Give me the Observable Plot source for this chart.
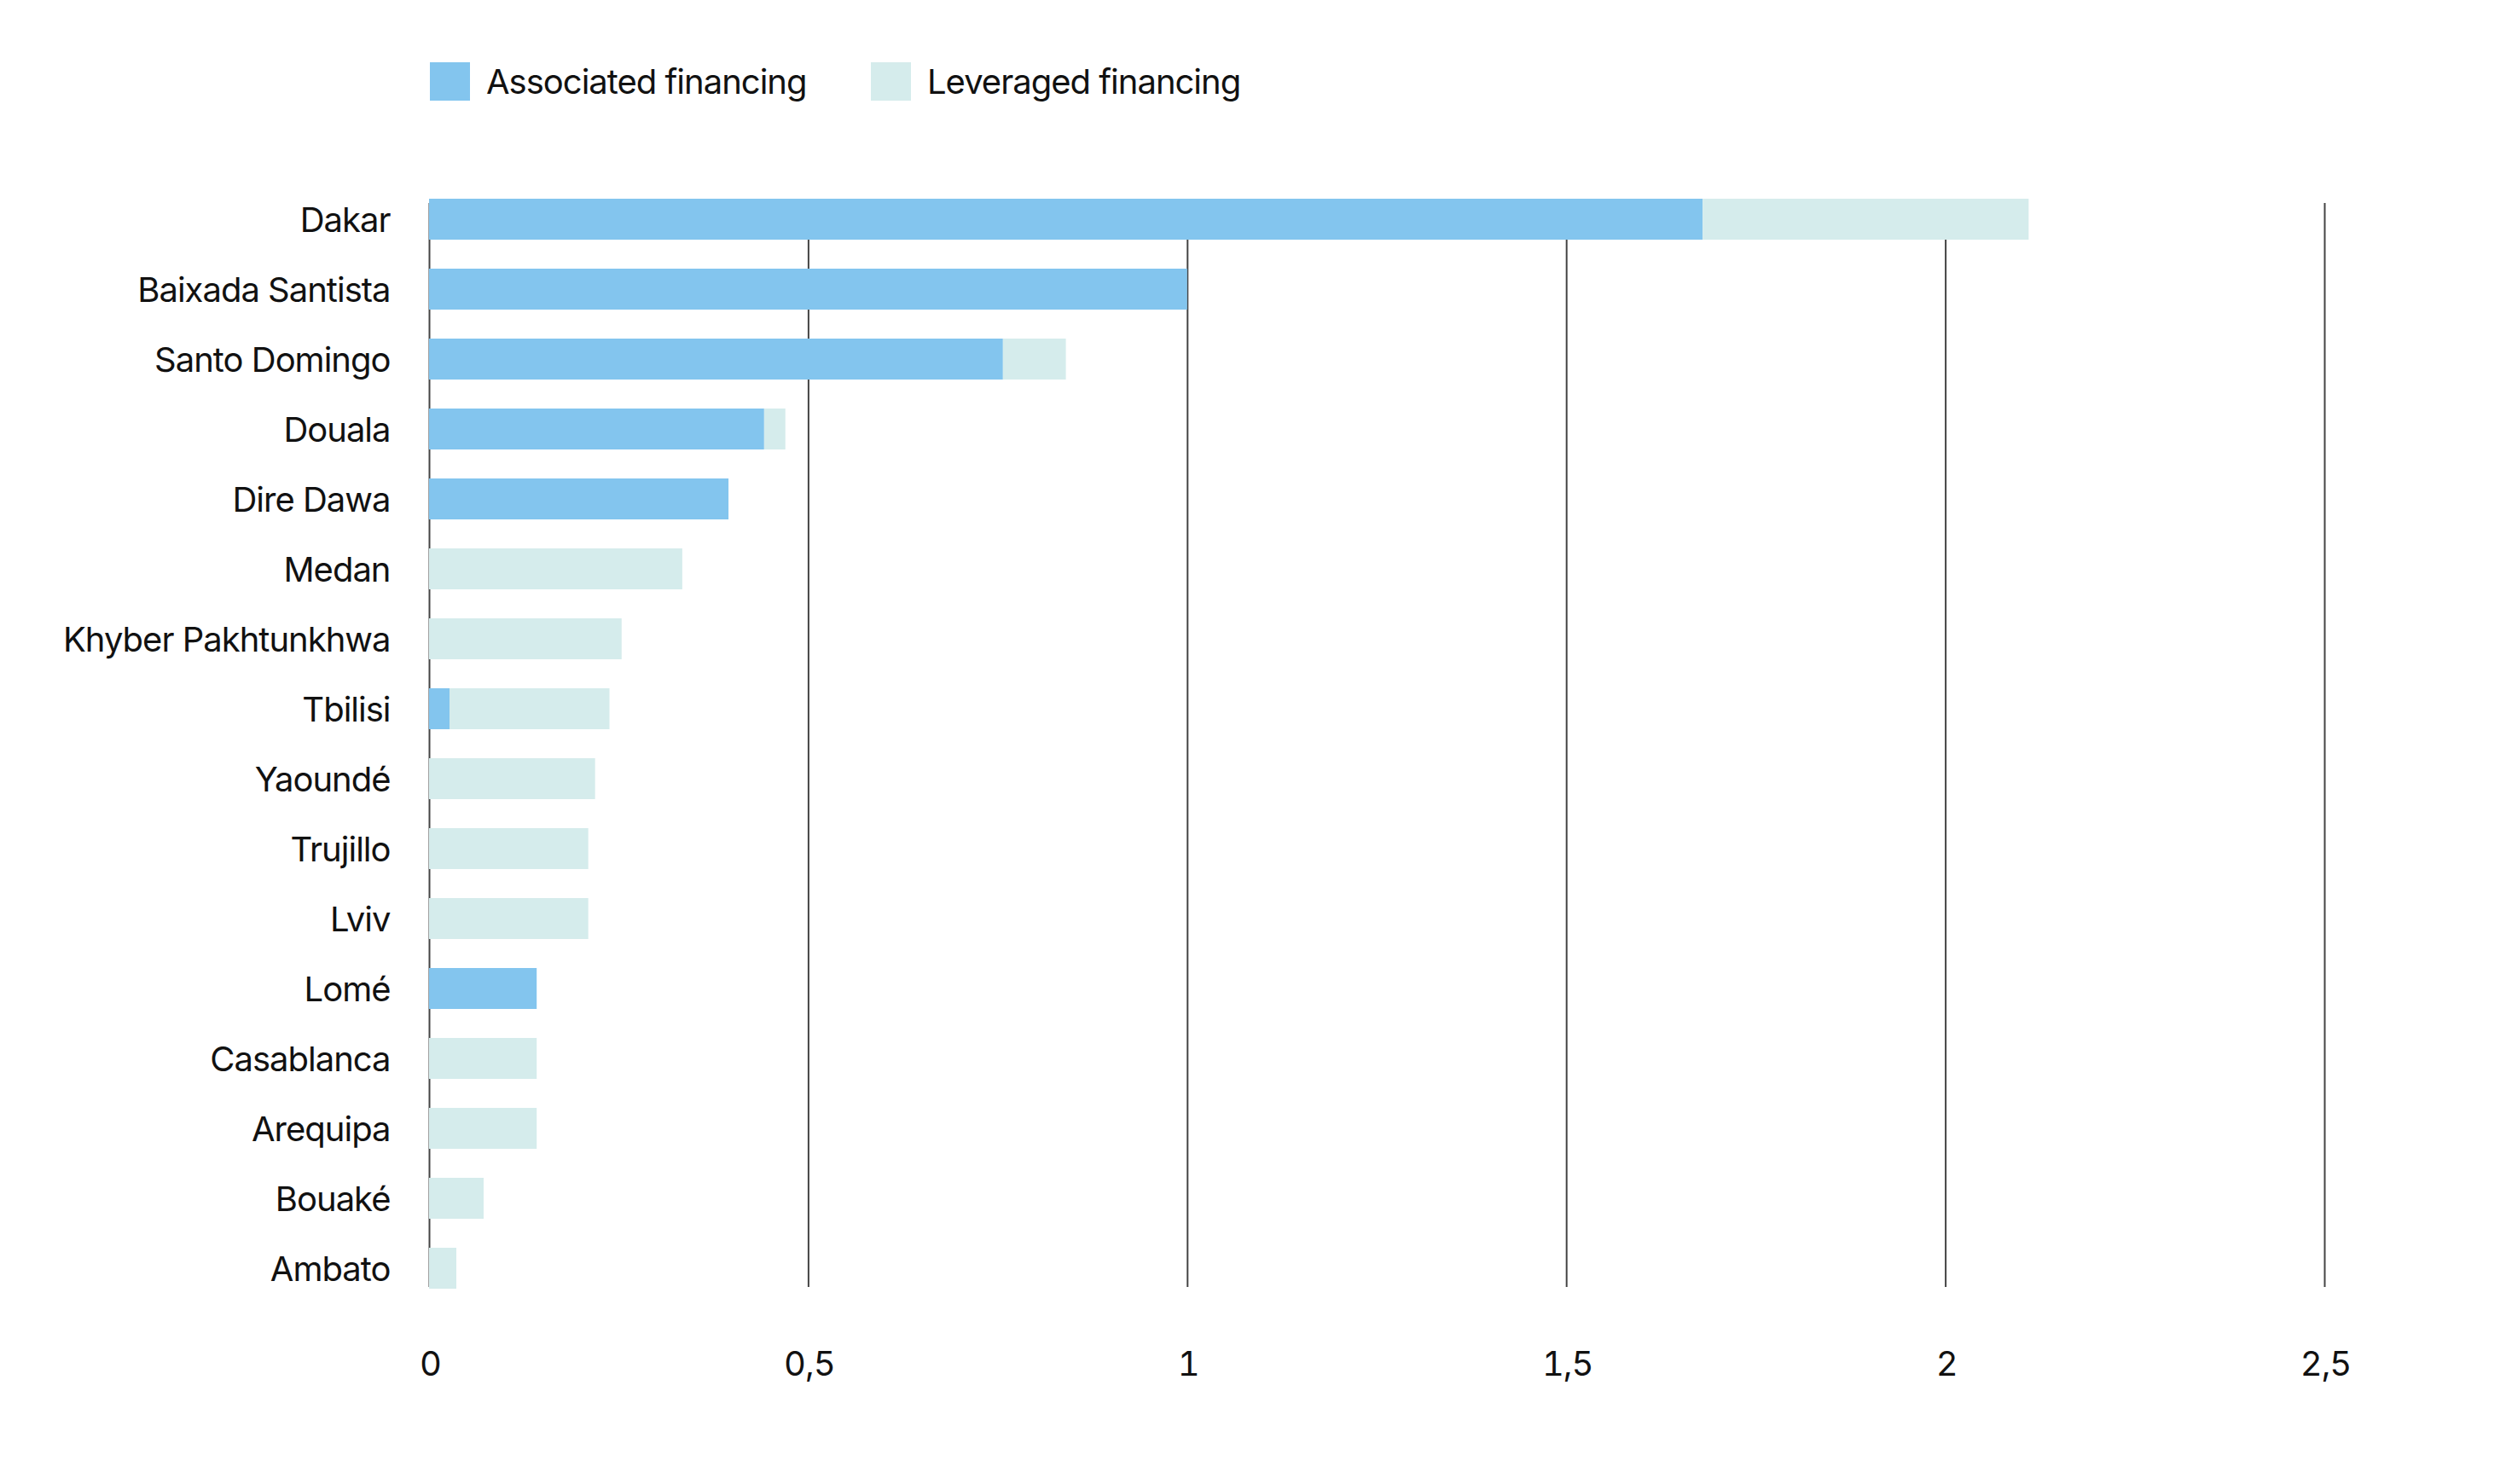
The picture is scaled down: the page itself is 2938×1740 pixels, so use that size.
<!DOCTYPE html>
<html>
<head>
<meta charset="utf-8">
<script src="https://cdn.jsdelivr.net/npm/d3@7"></script>
<script src="https://cdn.jsdelivr.net/npm/@observablehq/plot@0.6"></script>
<style>
  html, body { margin: 0; padding: 0; background: #fff; }
  body { width: 2938px; height: 1740px; overflow: hidden; font-family: Inter, "Noto Sans", sans-serif; }
  #legend { position: relative; height: 140px; }
  .item { position: absolute; top: 71px; display: flex; align-items: center; font-size: 40px; color: #111; letter-spacing: -1px; }
  .sw { width: 47px; height: 45px; margin-right: 19px; }
  #chart svg { display: block; }
</style>
</head>
<body>
<div id="legend"></div>
<div id="chart"></div>
<script>
const cities = ["Dakar", "Baixada Santista", "Santo Domingo", "Douala", "Dire Dawa", "Medan", "Khyber Pakhtunkhwa", "Tbilisi", "Yaoundé", "Trujillo", "Lviv", "Lomé", "Casablanca", "Arequipa", "Bouaké", "Ambato"];
const associated = [1.68, 1.00, 0.757, 0.442, 0.395, 0, 0, 0.027, 0, 0, 0, 0.142, 0, 0, 0, 0];
const leveraged  = [0.43, 0, 0.083, 0.028, 0, 0.334, 0.254, 0.211, 0.219, 0.21, 0.21, 0, 0.142, 0.142, 0.072, 0.036];
const seriesNames = ["Associated financing", "Leveraged financing"];
const seriesColors = ["#83c5ee", "#d5ecec"];
const xTicks = [0, 0.5, 1, 1.5, 2, 2.5];

const rows = [];
cities.forEach((c, i) => {
  rows.push({city: c, series: seriesNames[0], value: associated[i]});
  rows.push({city: c, series: seriesNames[1], value: leveraged[i]});
});

// legend
const legend = document.getElementById("legend");
const legendX = [504, 1021];
seriesNames.forEach((s, i) => {
  const it = document.createElement("div");
  it.className = "item";
  it.style.left = legendX[i] + "px";
  it.innerHTML = `<div class="sw" style="background:${seriesColors[i]}"></div><span>${s}</span>`;
  legend.appendChild(it);
});

const fmt = d => String(d).replace(".", ",");

const chart = Plot.plot({
  width: 2938,
  height: 1600,
  marginTop: 92,
  marginBottom: 228,
  marginLeft: 503,
  marginRight: 213,
  style: { fontFamily: "Inter, 'Noto Sans', sans-serif", fontSize: "40px", color: "#111", background: "#fff", letterSpacing: "-1px" },
  x: { domain: [0, 2.5], ticks: xTicks, tickFormat: fmt, tickSize: 0, tickPadding: 70, label: null },
  y: { domain: cities, paddingInner: 0.415, paddingOuter: 0, tickSize: 0, tickPadding: 46, label: null },
  color: { domain: seriesNames, range: seriesColors },
  marks: [
    Plot.ruleX(xTicks, { stroke: "#444", strokeWidth: 2, insetTop: 6, insetBottom: 3 }),
    Plot.barX(rows, { x: "value", y: "city", fill: "series" }),
    Plot.axisX({ ticks: xTicks, tickFormat: fmt, tickSize: 0, tickPadding: 72, fontSize: 40, dx: 1 }),
    Plot.axisY({ tickSize: 0, tickPadding: 46, fontSize: 40, dy: 2 })
  ]
});
document.getElementById("chart").appendChild(chart);
</script>
</body>
</html>
